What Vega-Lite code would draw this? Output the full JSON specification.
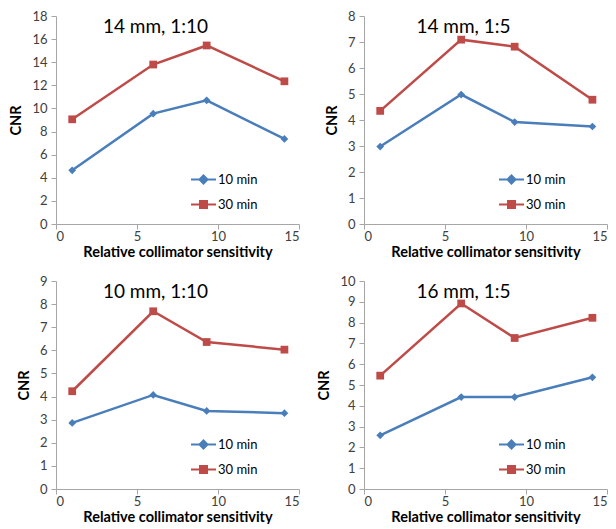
{
  "$schema": "https://vega.github.io/schema/vega-lite/v6.json",
  "background": "white",
  "padding": {"left": 8, "top": 10, "right": 5, "bottom": 0},
  "data": {"values": [
    {"panel": "A", "series": "10 min", "x": 1.0, "cnr": 4.65},
    {"panel": "A", "series": "10 min", "x": 6.0, "cnr": 9.55},
    {"panel": "A", "series": "10 min", "x": 9.3, "cnr": 10.7},
    {"panel": "A", "series": "10 min", "x": 14.1, "cnr": 7.36},
    {"panel": "A", "series": "30 min", "x": 1.0, "cnr": 9.06},
    {"panel": "A", "series": "30 min", "x": 6.0, "cnr": 13.8},
    {"panel": "A", "series": "30 min", "x": 9.3, "cnr": 15.45},
    {"panel": "A", "series": "30 min", "x": 14.1, "cnr": 12.35},
    {"panel": "B", "series": "10 min", "x": 1.0, "cnr": 2.98},
    {"panel": "B", "series": "10 min", "x": 6.0, "cnr": 4.98},
    {"panel": "B", "series": "10 min", "x": 9.3, "cnr": 3.92},
    {"panel": "B", "series": "10 min", "x": 14.1, "cnr": 3.75},
    {"panel": "B", "series": "30 min", "x": 1.0, "cnr": 4.35},
    {"panel": "B", "series": "30 min", "x": 6.0, "cnr": 7.09},
    {"panel": "B", "series": "30 min", "x": 9.3, "cnr": 6.82},
    {"panel": "B", "series": "30 min", "x": 14.1, "cnr": 4.78},
    {"panel": "C", "series": "10 min", "x": 1.0, "cnr": 2.86},
    {"panel": "C", "series": "10 min", "x": 6.0, "cnr": 4.07},
    {"panel": "C", "series": "10 min", "x": 9.3, "cnr": 3.38},
    {"panel": "C", "series": "10 min", "x": 14.1, "cnr": 3.28},
    {"panel": "C", "series": "30 min", "x": 1.0, "cnr": 4.23},
    {"panel": "C", "series": "30 min", "x": 6.0, "cnr": 7.69},
    {"panel": "C", "series": "30 min", "x": 9.3, "cnr": 6.36},
    {"panel": "C", "series": "30 min", "x": 14.1, "cnr": 6.03},
    {"panel": "D", "series": "10 min", "x": 1.0, "cnr": 2.58},
    {"panel": "D", "series": "10 min", "x": 6.0, "cnr": 4.42},
    {"panel": "D", "series": "10 min", "x": 9.3, "cnr": 4.42},
    {"panel": "D", "series": "10 min", "x": 14.1, "cnr": 5.37},
    {"panel": "D", "series": "30 min", "x": 1.0, "cnr": 5.45},
    {"panel": "D", "series": "30 min", "x": 6.0, "cnr": 8.92},
    {"panel": "D", "series": "30 min", "x": 9.3, "cnr": 7.26},
    {"panel": "D", "series": "30 min", "x": 14.1, "cnr": 8.23}
  ]},
  "columns": 2,
  "bounds": "flush",
  "spacing": {"row": 57, "column": 65},
  "resolve": {
    "scale": {"color": "independent", "y": "independent", "x": "independent"},
    "legend": {"color": "independent"}
  },
  "config": {
    "font": "Lato",
    "view": {"stroke": null},
    "axis": {
      "grid": false,
      "domainColor": "#a6a6a6",
      "tickColor": "#a6a6a6",
      "tickSize": 5,
      "labelColor": "#404040",
      "labelFontSize": 13,
      "labelFont": "Lato",
      "titleFont": "Lato",
      "titleFontSize": 14.5,
      "titleFontWeight": "bold",
      "titleColor": "#000000"
    },
    "axisX": {"labelPadding": 1, "titlePadding": 2},
    "axisY": {"labelPadding": 4, "titlePadding": 8},
    "title": {"font": "Lato", "fontSize": 19, "fontWeight": "normal", "color": "#000000", "anchor": "middle", "baseline": "alphabetic", "offset": -27, "dx": -22},
    "legend": {
      "orient": "none",
      "legendX": 141,
      "legendY": 157,
      "title": null,
      "labelFont": "Lato",
      "labelFontSize": 13,
      "labelColor": "#000000",
      "labelOffset": 8,
      "rowPadding": 9,
      "symbolSize": 100,
      "padding": 0
    }
  },
  "concat": [
    {
      "width": 243, "height": 208,
      "title": "14 mm, 1:10",
      "transform": [{"filter": "datum.panel === 'A'"}],
      "encoding": {
        "x": {"field": "x", "type": "quantitative", "scale": {"domain": [0, 15]}, "axis": {"values": [0, 5, 10, 15], "title": "Relative collimator sensitivity"}},
        "y": {"field": "cnr", "type": "quantitative", "scale": {"domain": [0, 18]}, "axis": {"values": [0, 2, 4, 6, 8, 10, 12, 14, 16, 18], "title": "CNR"}},
        "color": {"field": "series", "type": "nominal", "scale": {"domain": ["10 min", "30 min"], "range": ["#4a7ebb", "#be4b48"]},
          "legend": {"encode": {"symbols": {"update": {
            "shape": {"signal": "datum.value === '10 min' ? 'M-2.5,0H2.5M0,-0.8L0.8,0L0,0.8L-0.8,0Z' : 'M-2.5,0H2.5M-0.7,-0.7H0.7V0.7H-0.7Z'"},
            "stroke": {"signal": "datum.value === '10 min' ? '#4a7ebb' : '#be4b48'"},
            "fill": {"signal": "datum.value === '10 min' ? '#4a7ebb' : '#be4b48'"},
            "strokeWidth": {"value": 2},
            "opacity": {"value": 1},
            "fillOpacity": {"value": 1}
          }}}}}
      },
      "layer": [
        {"mark": {"type": "line", "strokeWidth": 2.5}},
        {"transform": [{"filter": "datum.series === '10 min'"}], "mark": {"type": "point", "shape": "diamond", "filled": true, "opacity": 1, "size": 60}},
        {"transform": [{"filter": "datum.series === '30 min'"}], "mark": {"type": "point", "shape": "square", "filled": true, "opacity": 1, "size": 60}}
      ]
    },
    {
      "width": 243, "height": 208,
      "title": "14 mm, 1:5",
      "transform": [{"filter": "datum.panel === 'B'"}],
      "encoding": {
        "x": {"field": "x", "type": "quantitative", "scale": {"domain": [0, 15]}, "axis": {"values": [0, 5, 10, 15], "title": "Relative collimator sensitivity"}},
        "y": {"field": "cnr", "type": "quantitative", "scale": {"domain": [0, 8]}, "axis": {"values": [0, 1, 2, 3, 4, 5, 6, 7, 8], "title": "CNR"}},
        "color": {"field": "series", "type": "nominal", "scale": {"domain": ["10 min", "30 min"], "range": ["#4a7ebb", "#be4b48"]},
          "legend": {"encode": {"symbols": {"update": {
            "shape": {"signal": "datum.value === '10 min' ? 'M-2.5,0H2.5M0,-0.8L0.8,0L0,0.8L-0.8,0Z' : 'M-2.5,0H2.5M-0.7,-0.7H0.7V0.7H-0.7Z'"},
            "stroke": {"signal": "datum.value === '10 min' ? '#4a7ebb' : '#be4b48'"},
            "fill": {"signal": "datum.value === '10 min' ? '#4a7ebb' : '#be4b48'"},
            "strokeWidth": {"value": 2},
            "opacity": {"value": 1},
            "fillOpacity": {"value": 1}
          }}}}}
      },
      "layer": [
        {"mark": {"type": "line", "strokeWidth": 2.5}},
        {"transform": [{"filter": "datum.series === '10 min'"}], "mark": {"type": "point", "shape": "diamond", "filled": true, "opacity": 1, "size": 60}},
        {"transform": [{"filter": "datum.series === '30 min'"}], "mark": {"type": "point", "shape": "square", "filled": true, "opacity": 1, "size": 60}}
      ]
    },
    {
      "width": 243, "height": 208,
      "title": "10 mm, 1:10",
      "transform": [{"filter": "datum.panel === 'C'"}],
      "encoding": {
        "x": {"field": "x", "type": "quantitative", "scale": {"domain": [0, 15]}, "axis": {"values": [0, 5, 10, 15], "title": "Relative collimator sensitivity"}},
        "y": {"field": "cnr", "type": "quantitative", "scale": {"domain": [0, 9]}, "axis": {"values": [0, 1, 2, 3, 4, 5, 6, 7, 8, 9], "title": "CNR"}},
        "color": {"field": "series", "type": "nominal", "scale": {"domain": ["10 min", "30 min"], "range": ["#4a7ebb", "#be4b48"]},
          "legend": {"encode": {"symbols": {"update": {
            "shape": {"signal": "datum.value === '10 min' ? 'M-2.5,0H2.5M0,-0.8L0.8,0L0,0.8L-0.8,0Z' : 'M-2.5,0H2.5M-0.7,-0.7H0.7V0.7H-0.7Z'"},
            "stroke": {"signal": "datum.value === '10 min' ? '#4a7ebb' : '#be4b48'"},
            "fill": {"signal": "datum.value === '10 min' ? '#4a7ebb' : '#be4b48'"},
            "strokeWidth": {"value": 2},
            "opacity": {"value": 1},
            "fillOpacity": {"value": 1}
          }}}}}
      },
      "layer": [
        {"mark": {"type": "line", "strokeWidth": 2.5}},
        {"transform": [{"filter": "datum.series === '10 min'"}], "mark": {"type": "point", "shape": "diamond", "filled": true, "opacity": 1, "size": 60}},
        {"transform": [{"filter": "datum.series === '30 min'"}], "mark": {"type": "point", "shape": "square", "filled": true, "opacity": 1, "size": 60}}
      ]
    },
    {
      "width": 243, "height": 208,
      "title": "16 mm, 1:5",
      "transform": [{"filter": "datum.panel === 'D'"}],
      "encoding": {
        "x": {"field": "x", "type": "quantitative", "scale": {"domain": [0, 15]}, "axis": {"values": [0, 5, 10, 15], "title": "Relative collimator sensitivity"}},
        "y": {"field": "cnr", "type": "quantitative", "scale": {"domain": [0, 10]}, "axis": {"values": [0, 1, 2, 3, 4, 5, 6, 7, 8, 9, 10], "title": "CNR"}},
        "color": {"field": "series", "type": "nominal", "scale": {"domain": ["10 min", "30 min"], "range": ["#4a7ebb", "#be4b48"]},
          "legend": {"encode": {"symbols": {"update": {
            "shape": {"signal": "datum.value === '10 min' ? 'M-2.5,0H2.5M0,-0.8L0.8,0L0,0.8L-0.8,0Z' : 'M-2.5,0H2.5M-0.7,-0.7H0.7V0.7H-0.7Z'"},
            "stroke": {"signal": "datum.value === '10 min' ? '#4a7ebb' : '#be4b48'"},
            "fill": {"signal": "datum.value === '10 min' ? '#4a7ebb' : '#be4b48'"},
            "strokeWidth": {"value": 2},
            "opacity": {"value": 1},
            "fillOpacity": {"value": 1}
          }}}}}
      },
      "layer": [
        {"mark": {"type": "line", "strokeWidth": 2.5}},
        {"transform": [{"filter": "datum.series === '10 min'"}], "mark": {"type": "point", "shape": "diamond", "filled": true, "opacity": 1, "size": 60}},
        {"transform": [{"filter": "datum.series === '30 min'"}], "mark": {"type": "point", "shape": "square", "filled": true, "opacity": 1, "size": 60}}
      ]
    }
  ]
}
